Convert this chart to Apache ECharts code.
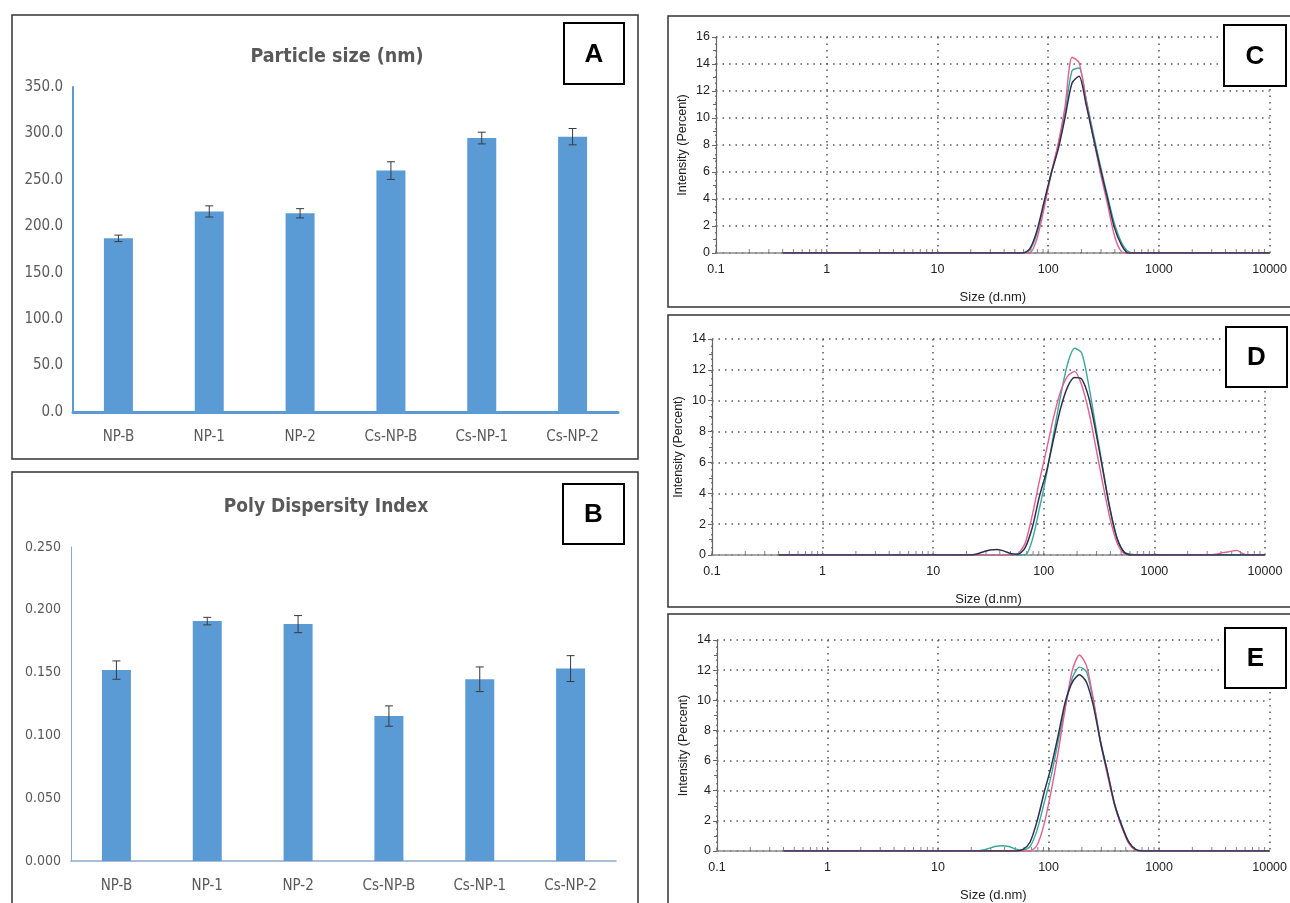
<!DOCTYPE html>
<html><head><meta charset="utf-8">
<script src="https://cdn.jsdelivr.net/npm/echarts@6/dist/echarts.min.js"></script>
<style>html,body{margin:0;padding:0;background:#fff}#c{width:1290px;height:903px}</style>
</head><body><div id="c"></div>
<script>
// ---------- Data ----------
const categories = ['NP-B', 'NP-1', 'NP-2', 'Cs-NP-B', 'Cs-NP-1', 'Cs-NP-2'];
const sizeMeans  = [187, 216, 214, 260, 295, 296.5];
const sizeErrors = [3.5, 6, 5, 9.5, 6.3, 8.8];
const pdiMeans   = [0.152, 0.191, 0.1886, 0.1154, 0.1447, 0.1532];
const pdiErrors  = [0.0073, 0.003, 0.0068, 0.0081, 0.0098, 0.0103];

// DLS size bins (d.nm)
const sizeBins = [0.4, 21.04, 24.36, 28.21, 32.67, 37.84, 43.82, 50.75, 58.77, 68.06,
  78.82, 91.28, 105.7, 122.4, 141.8, 164.2, 190.1, 220.2, 255.0, 295.3,
  342.0, 396.1, 458.7, 531.2, 615.1, 712.4, 825.0, 3091, 3580, 4145,
  4801, 5560, 6439, 7456, 10000];
const cPink = [0, 0, 0, 0, 0, 0, 0, 0, 0, 0, 1.0, 3.2, 5.8, 8.0, 10.8, 14.5, 14.1, 11.3, 8.6, 6.0, 3.7, 1.3, 0.1, 0, 0, 0, 0, 0, 0, 0, 0, 0, 0, 0, 0];
const cTeal = [0, 0, 0, 0, 0, 0, 0, 0, 0, 0.2, 1.4, 3.5, 5.7, 7.9, 10.4, 13.5, 13.7, 11.4, 8.9, 6.5, 4.3, 2.2, 0.8, 0.1, 0, 0, 0, 0, 0, 0, 0, 0, 0, 0, 0];
const cDark = [0, 0, 0, 0, 0, 0, 0, 0, 0, 0.3, 1.6, 3.7, 5.8, 7.6, 10.0, 12.6, 13.1, 11.0, 8.6, 6.3, 4.1, 1.9, 0.6, 0, 0, 0, 0, 0, 0, 0, 0, 0, 0, 0, 0];

const dPink = [0, 0, 0, 0, 0, 0, 0, 0, 0.1, 0.8, 2.6, 4.8, 6.8, 8.9, 10.6, 11.6, 11.9, 11.0, 9.3, 7.0, 4.6, 2.4, 0.8, 0.1, 0, 0, 0, 0, 0.05, 0.15, 0.22, 0.3, 0.05, 0, 0];
const dTeal = [0, 0, 0, 0, 0, 0, 0, 0, 0, 0, 1.0, 3.0, 5.2, 7.8, 10.3, 12.4, 13.4, 13.1, 11.0, 8.3, 5.6, 3.0, 1.1, 0.2, 0.05, 0, 0, 0, 0, 0, 0, 0, 0, 0, 0];
const dDark = [0, 0, 0.05, 0.2, 0.33, 0.35, 0.25, 0.08, 0.05, 0.5, 1.8, 3.8, 5.4, 7.5, 9.5, 10.9, 11.5, 11.4, 10.2, 8.0, 5.5, 3.0, 1.1, 0.2, 0, 0, 0, 0, 0, 0, 0, 0, 0, 0, 0];

const ePink = [0, 0, 0, 0, 0, 0, 0, 0, 0, 0, 0.4, 1.8, 4.0, 6.6, 9.5, 12.0, 13.0, 12.3, 10.0, 7.2, 5.0, 3.0, 1.6, 0.5, 0.05, 0, 0, 0, 0, 0, 0, 0, 0, 0, 0];
const eTeal = [0, 0, 0.03, 0.15, 0.3, 0.35, 0.3, 0.12, 0.05, 0.3, 1.4, 3.2, 5.0, 7.3, 9.6, 11.5, 12.2, 11.9, 9.9, 7.3, 5.2, 3.1, 1.7, 0.6, 0.05, 0, 0, 0, 0, 0, 0, 0, 0, 0, 0];
const eDark = [0, 0, 0, 0, 0, 0, 0, 0, 0.1, 0.6, 2.0, 3.9, 5.6, 7.7, 9.9, 11.2, 11.7, 11.2, 9.6, 7.2, 5.2, 3.1, 1.7, 0.6, 0.1, 0, 0, 0, 0, 0, 0, 0, 0, 0, 0];

const sizeTickLabels = ['0.1', '1', '10', '100', '1000', '10000'];

// ---------- Helpers ----------
const NARROW = "'Liberation Sans Narrow','DejaVu Sans Condensed','Liberation Sans',sans-serif";
const ARIAL = "'Liberation Sans',Arial,sans-serif";
const BAR = '#5b9bd5';
const PINK = '#e2608e', TEAL = '#3aa89b', DARK = '#2e3052';

function pairs(ys) { return sizeBins.map((x, i) => [x, ys[i]]); }

// minor tick positions on the log axis (1..9 x 10^k)
const logTickPos = [];
for (let e = -1; e < 4; e++) for (let k = 1; k < 10; k++) logTickPos.push([k * Math.pow(10, e), 0]);

function errRender(params, api) {
  const x = api.value(0), m = api.value(1), e = api.value(2);
  const hi = api.coord([x, m + e]), lo = api.coord([x, m - e]);
  const w = 4;
  const st = { stroke: '#3a3a3a', lineWidth: 1 };
  return { type: 'group', children: [
    { type: 'line', shape: { x1: hi[0], y1: hi[1], x2: lo[0], y2: lo[1] }, style: st },
    { type: 'line', shape: { x1: hi[0] - w, y1: hi[1], x2: hi[0] + w, y2: hi[1] }, style: st },
    { type: 'line', shape: { x1: lo[0] - w, y1: lo[1], x2: lo[0] + w, y2: lo[1] }, style: st }
  ]};
}

// ---------- Grids ----------
const grids = [
  { left: 73, top: 87, width: 545, height: 325 },   // A
  { left: 71, top: 547, width: 545, height: 314 },  // B
  { left: 716, top: 37, width: 557, height: 216 },  // C
  { left: 712, top: 339, width: 553, height: 216 }, // D
  { left: 717, top: 640, width: 558, height: 217 }  // E
];

function catX(gi, lineColor, lineWidth) {
  return { type: 'category', gridIndex: gi, data: categories,
    axisTick: { show: false },
    axisLine: { lineStyle: { color: lineColor, width: lineWidth } },
    axisLabel: { color: '#595959', fontSize: 15, fontFamily: NARROW, margin: 18 } };
}
function valY(gi, max, interval, dec, lineColor, lineWidth, fs) {
  return { type: 'value', gridIndex: gi, min: 0, max: max, interval: interval,
    axisLine: { show: true, lineStyle: { color: lineColor, width: lineWidth } },
    axisTick: { show: false }, splitLine: { show: false },
    axisLabel: { color: '#595959', fontSize: fs, fontFamily: NARROW, margin: 10,
      formatter: v => v.toFixed(dec) } };
}
function logX(gi) {
  return { type: 'log', gridIndex: gi, logBase: 10, min: 0.1, max: 10000,
    axisLine: { lineStyle: { color: '#8a8a8a', width: 1.5 } },
    axisTick: { show: false },
    splitLine: { show: true, lineStyle: { color: '#555', width: 1.5, type: [1.5, 5] } },
    axisLabel: { color: '#222', fontSize: 12.5, fontFamily: ARIAL, margin: 10,
      formatter: v => sizeTickLabels[Math.round(Math.log10(v)) + 1] },
    name: 'Size (d.nm)', nameLocation: 'middle', nameGap: 38,
    nameTextStyle: { color: '#222', fontSize: 13, fontFamily: ARIAL } };
}
function intY(gi, max) {
  return { type: 'value', gridIndex: gi, min: 0, max: max, interval: 2,
    axisLine: { show: true, lineStyle: { color: '#666', width: 1.2 } },
    axisTick: { show: true, length: 4, lineStyle: { color: '#666' } },
    minorTick: { show: true, splitNumber: 2, length: 3, lineStyle: { color: '#666' } },
    splitLine: { show: true, lineStyle: { color: '#555', width: 1.5, type: [1.5, 5] } },
    axisLabel: { color: '#222', fontSize: 12.5, fontFamily: ARIAL, margin: 6 },
    name: 'Intensity (Percent)', nameLocation: 'middle', nameGap: 27, nameRotate: 90,
    nameTextStyle: { color: '#222', fontSize: 12.5, fontFamily: ARIAL } };
}

function dlsLines(gi, pink, teal, dark) {
  const base = { type: 'line', xAxisIndex: gi, yAxisIndex: gi, showSymbol: false, symbol: 'none',
    smooth: 0.25, silent: true };
  return [
    Object.assign({}, base, { data: pairs(teal), lineStyle: { color: TEAL, width: 1.4 }, z: 3 }),
    Object.assign({}, base, { data: pairs(pink), lineStyle: { color: PINK, width: 1.4 }, z: 4 }),
    Object.assign({}, base, { data: pairs(dark), lineStyle: { color: DARK, width: 1.5 }, z: 5 }),
    { type: 'scatter', xAxisIndex: gi, yAxisIndex: gi, data: logTickPos, symbol: 'rect',
      symbolSize: [1, 4], symbolOffset: [0, -2], itemStyle: { color: '#666' }, silent: true, z: 2 }
  ];
}

// ---------- Graphic: frames, titles, letter boxes ----------
function letterBox(x, y, w, h, letter) {
  return { type: 'group', children: [
    { type: 'rect', shape: { x: x, y: y, width: w, height: h }, style: { fill: '#fff', stroke: '#000', lineWidth: 2 }, z: 10 },
    { type: 'text', x: x + w / 2, y: y + h / 2 + 1, z: 11,
      style: { text: letter, fill: '#000', font: "bold 26px 'Liberation Sans',Arial,sans-serif",
        align: 'center', verticalAlign: 'middle' } }
  ]};
}
const frame = { fill: 'none', stroke: '#333', lineWidth: 1.5 };
const graphic = [
  { type: 'rect', shape: { x: 12, y: 15, width: 626, height: 444 }, style: frame },
  { type: 'rect', shape: { x: 12, y: 472, width: 626, height: 440 }, style: frame },
  { type: 'rect', shape: { x: 668, y: 16, width: 630, height: 291 }, style: frame },
  { type: 'rect', shape: { x: 668, y: 315, width: 630, height: 292 }, style: frame },
  { type: 'rect', shape: { x: 668, y: 614, width: 630, height: 300 }, style: frame },
  { type: 'text', x: 337, y: 57, style: { text: 'Particle size (nm)', fill: '#595959',
      font: "bold 19.5px " + NARROW, align: 'center', verticalAlign: 'middle' } },
  { type: 'text', x: 326, y: 507, style: { text: 'Poly Dispersity Index', fill: '#595959',
      font: "bold 19px " + NARROW, align: 'center', verticalAlign: 'middle' } },
  letterBox(564, 23, 60, 61, 'A'),
  letterBox(563, 484, 61, 60, 'B'),
  letterBox(1224, 25, 62, 61, 'C'),
  letterBox(1226, 327, 61, 60, 'D'),
  letterBox(1225, 628, 61, 60, 'E')
];

const option = {
  animation: false,
  backgroundColor: '#fff',
  grid: grids,
  xAxis: [catX(0, BAR, 3), catX(1, '#8ea9c8', 1.5), logX(2), logX(3), logX(4)],
  yAxis: [valY(0, 350, 50, 1, BAR, 2, 15), valY(1, 0.25, 0.05, 3, '#8ea9c8', 1, 14),
          intY(2, 16), intY(3, 14), intY(4, 14)],
  graphic: graphic,
  series: [
    { type: 'bar', xAxisIndex: 0, yAxisIndex: 0, data: sizeMeans, barWidth: 29,
      itemStyle: { color: BAR } },
    { type: 'custom', xAxisIndex: 0, yAxisIndex: 0, renderItem: errRender, z: 5,
      data: categories.map((c, i) => [i, sizeMeans[i], sizeErrors[i]]), encode: { x: 0, y: 1 } },
    { type: 'bar', xAxisIndex: 1, yAxisIndex: 1, data: pdiMeans, barWidth: 29,
      itemStyle: { color: BAR } },
    { type: 'custom', xAxisIndex: 1, yAxisIndex: 1, renderItem: errRender, z: 5,
      data: categories.map((c, i) => [i, pdiMeans[i], pdiErrors[i]]), encode: { x: 0, y: 1 } },
    ...dlsLines(2, cPink, cTeal, cDark),
    ...dlsLines(3, dPink, dTeal, dDark),
    ...dlsLines(4, ePink, eTeal, eDark)
  ]
};

const chart = echarts.init(document.getElementById('c'), null, { renderer: 'canvas' });
chart.setOption(option);
</script>
</body></html>
